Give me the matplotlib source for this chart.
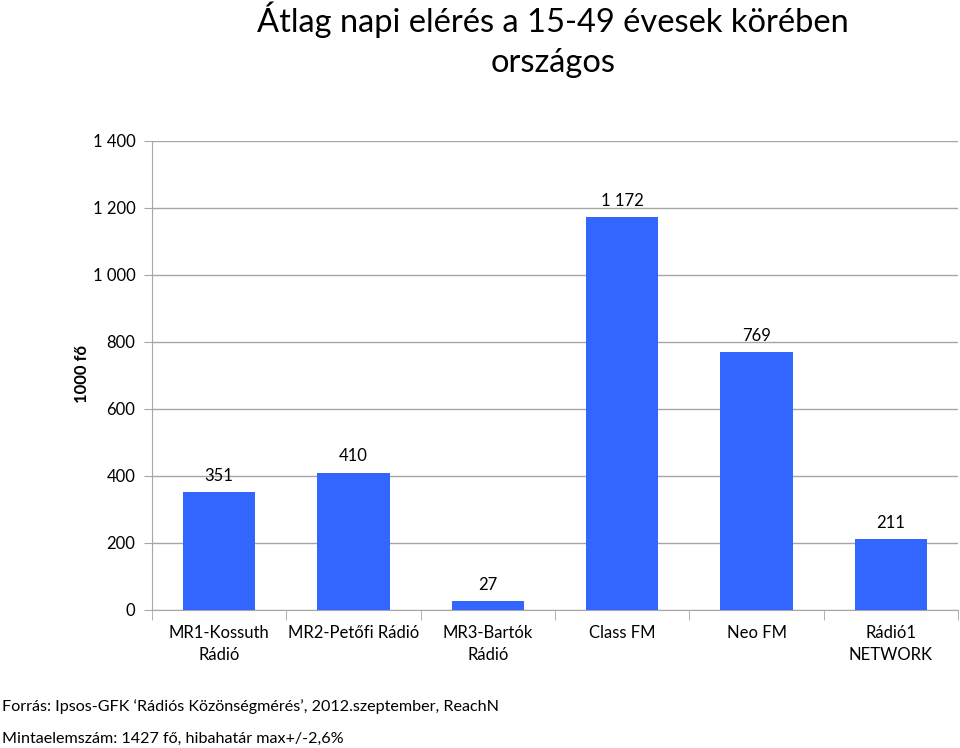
import matplotlib
matplotlib.use("Agg")
import matplotlib.pyplot as plt
import numpy as np

categories = ["MR1-Kossuth\nRádió", "MR2-Petőfi Rádió", "MR3-Bartók\nRádió", "Class FM", "Neo FM", "Rádió1\nNETWORK"]
values = [351, 410, 27, 1172, 769, 211]
value_labels = ["351", "410", "27", "1 172", "769", "211"]
yticks = [0, 200, 400, 600, 800, 1000, 1200, 1400]
ytick_labels = ["0", "200", "400", "600", "800", "1 000", "1 200", "1 400"]

plt.rcParams['font.family'] = ['Lato', 'DejaVu Sans']

fig = plt.figure(figsize=(9.6, 7.48), dpi=100)
ax = fig.add_axes([0.1583, 0.1845, 0.8397, 0.627])

x = np.arange(len(categories))
ax.bar(x, values, width=0.54, color="#3366FF", zorder=3)
for xi, v, lab in zip(x, values, value_labels):
    ax.annotate(lab, (xi, v), xytext=(0, 6), textcoords="offset points",
                ha="center", va="bottom", fontsize=12)

ax.set_xlim(-0.5, len(categories) - 0.5)
ax.set_ylim(0, 1400)
ax.set_yticks(yticks)
ax.set_yticklabels(ytick_labels, fontsize=12)
ax.yaxis.grid(True, color="#A6A6A6", linewidth=1, zorder=0)
ax.tick_params(axis="y", length=6, color="#A6A6A6", pad=6)

ax.set_xticks(x)
ax.set_xticklabels(categories, fontsize=12, linespacing=1.45)
ax.tick_params(axis="x", length=0, pad=11)
ax.set_xticks(np.arange(-0.5, len(categories) + 0.5, 1), minor=True)
ax.tick_params(axis="x", which="minor", length=7, color="#A6A6A6")

for s in ["top", "right"]:
    ax.spines[s].set_visible(False)
for s in ["left", "bottom"]:
    ax.spines[s].set_color("#A6A6A6")

fig.text(0.085, 0.50, "1000 fő", rotation=90, ha="center", va="center",
         fontsize=12, fontweight="bold")

fig.text(0.576, 0.974, "Átlag napi elérés a 15-49 évesek körében", ha="center", va="center", fontsize=23.5)
fig.text(0.576, 0.916, "országos", ha="center", va="center", fontsize=23.5)

fig.text(0.002, 0.056, "Forrás: Ipsos-GFK ‘Rádiós Közönségmérés’, 2012.szeptember, ReachN", ha="left", va="center", fontsize=11.6)
fig.text(0.002, 0.012, "Mintaelemszám: 1427 fő, hibahatár max+/-2,6%", ha="left", va="center", fontsize=11.6)

fig.savefig("out.png", dpi=100, facecolor="white")
